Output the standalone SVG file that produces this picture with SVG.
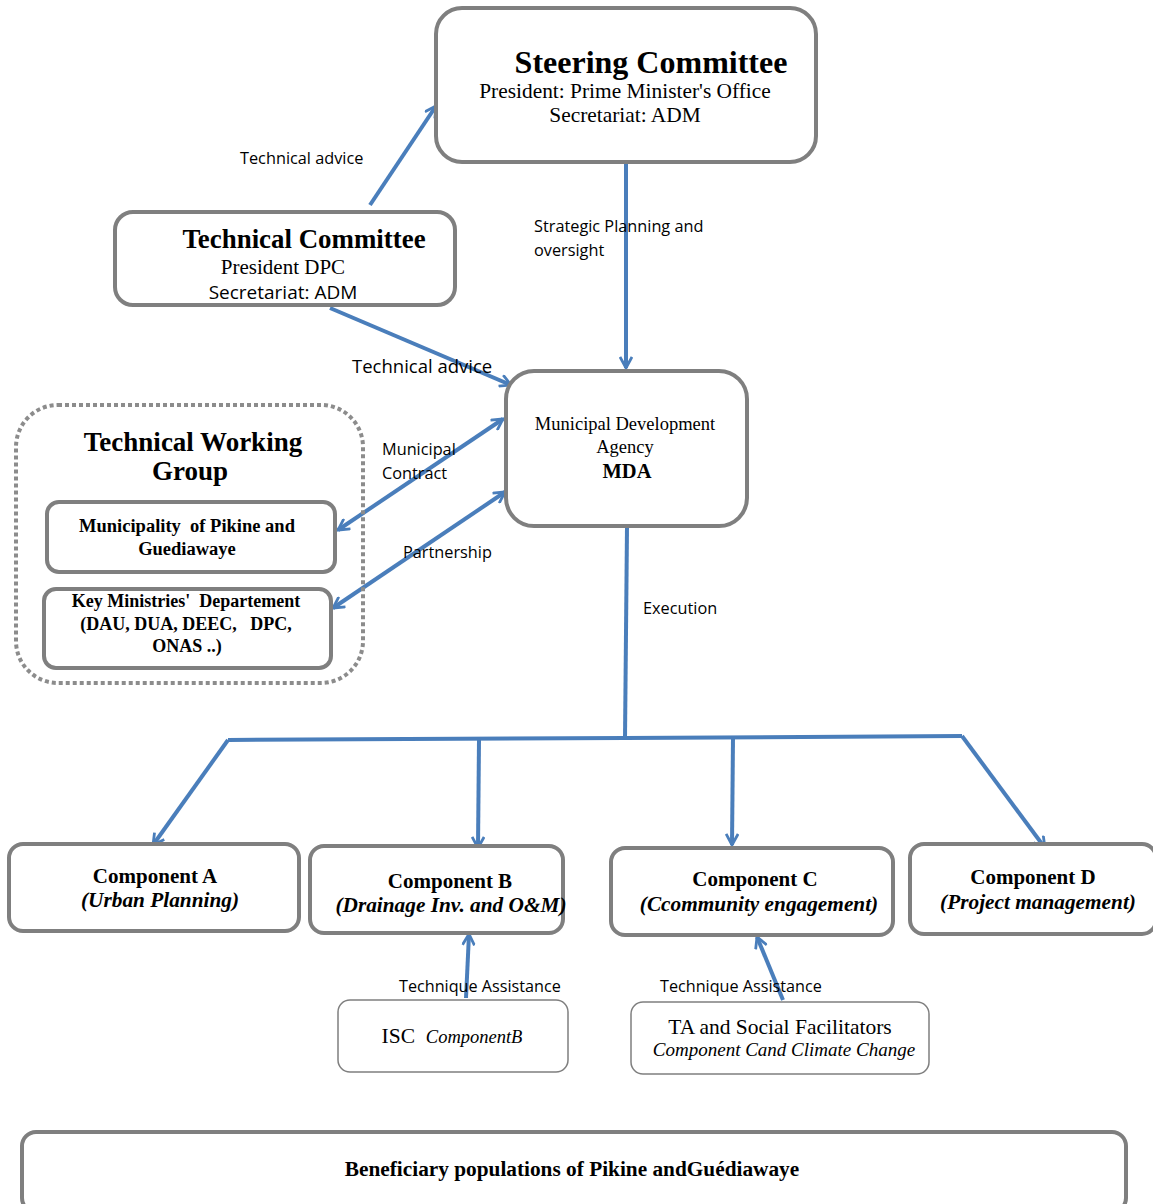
<svg xmlns="http://www.w3.org/2000/svg" width="1153" height="1204" viewBox="0 0 1153 1204">
<defs>
<marker id="ah" viewBox="0 0 14 14" refX="12" refY="7" markerWidth="14" markerHeight="14" markerUnits="userSpaceOnUse" orient="auto-start-reverse">
<polyline points="1,1 12,7 1,13" fill="none" stroke="#4a7ebb" stroke-width="2.8"/>
</marker>
<style>
.box{fill:#fff;stroke:#7f7f7f;stroke-width:4}
.thin{fill:#fff;stroke:#7f7f7f;stroke-width:1.5}
.dot{fill:none;stroke:#8c8c8c;stroke-width:4;stroke-dasharray:4 3}
.c{fill:none;stroke:#4a7ebb;stroke-width:4}
.a{marker-end:url(#ah)}
.aa{marker-end:url(#ah);marker-start:url(#ah)}
.s{font-family:"Liberation Serif","Times New Roman",serif;fill:#000}
.b{font-weight:bold}
.i{font-style:italic}
.sans{font-family:"Open Sans","Liberation Sans",sans-serif;fill:#000}
.m{text-anchor:middle}
</style>
</defs>
<rect width="1153" height="1204" fill="#fff"/>

<g id="connectors">
<line class="c a" x1="370" y1="205" x2="436" y2="106"/>
<line class="c a" x1="626" y1="163" x2="626" y2="368"/>
<line class="c a" x1="330" y1="308" x2="511" y2="385"/>
<line class="c aa" x1="338" y1="530" x2="503" y2="419"/>
<line class="c aa" x1="333" y1="608" x2="505" y2="492"/>
<line class="c" x1="627" y1="527" x2="625" y2="738"/>
<polyline class="c" points="228,740 625,738 962,736"/>
<line class="c a" x1="228" y1="740" x2="153" y2="845"/>
<line class="c a" x1="479" y1="740" x2="478" y2="848"/>
<line class="c a" x1="733" y1="738" x2="732" y2="845"/>
<line class="c a" x1="962" y1="736" x2="1045" y2="848"/>
<line class="c a" x1="466" y1="998" x2="469" y2="934"/>
<line class="c a" x1="783" y1="1000" x2="757" y2="937"/>
<text class="sans" x="240" y="164" font-size="16.3">Technical advice</text>
<text class="sans" x="534" y="232" font-size="16.3">Strategic  Planning and</text>
<text class="sans" x="534" y="256" font-size="16.3">oversight</text>
<text class="sans" x="352" y="373" font-size="18.5">Technical advice</text>
<text class="sans" x="382" y="455" font-size="16.3">Municipal</text>
<text class="sans" x="382" y="479" font-size="16.3">Contract</text>
<text class="sans" x="403" y="558" font-size="16.3">Partnership</text>
<text class="sans" x="643" y="614" font-size="16.3">Execution</text>
<text class="sans" x="399" y="992" font-size="16.2">Technique Assistance</text>
<text class="sans" x="660" y="992" font-size="16.2">Technique Assistance</text>
</g>

<g id="steering">
<rect class="box" x="436" y="8" width="380" height="154" rx="26"/>
<text class="s b m" x="651" y="73" font-size="32">Steering Committee</text>
<text class="s m" x="625" y="98" font-size="21.4">President: Prime Minister's Office</text>
<text class="s m" x="625" y="122" font-size="21.4">Secretariat: ADM</text>
</g>

<g id="technical">
<rect class="box" x="115" y="212" width="340" height="93" rx="18"/>
<text class="s b m" x="304" y="248" font-size="26.9">Technical Committee</text>
<text class="s m" x="283" y="274" font-size="21">President DPC</text>
<text class="sans m" x="283" y="299" font-size="19">Secretariat: ADM</text>
</g>

<g id="mda">
<rect class="box" x="506" y="371" width="241" height="155" rx="28"/>
<text class="s m" x="625" y="430" font-size="18.5">Municipal Development</text>
<text class="s m" x="625" y="453" font-size="18.5">Agency</text>
<text class="s b m" x="627" y="478" font-size="20.5">MDA</text>
</g>

<g id="twg">
<rect class="dot" x="16" y="405" width="347" height="278" rx="42"/>
<text class="s b m" x="193" y="451" font-size="27">Technical Working</text>
<text class="s b m" x="190" y="480" font-size="27">Group</text>
</g>

<g id="municipality">
<rect class="box" x="47" y="502" width="288" height="70" rx="12"/>
<text class="s b m" x="187" y="532" font-size="18.5">Municipality&#160; of Pikine and</text>
<text class="s b m" x="187" y="555" font-size="18.5">Guediawaye</text>
</g>

<g id="ministries">
<rect class="box" x="44" y="589" width="287" height="79" rx="12"/>
<text class="s b m" x="186" y="607" font-size="18">Key Ministries'&#160; Departement</text>
<text class="s b m" x="186" y="630" font-size="18">(DAU, DUA, DEEC,&#160;&#160; DPC,</text>
<text class="s b m" x="187" y="652" font-size="18">ONAS ..)</text>
</g>

<g id="compA">
<rect class="box" x="9" y="844" width="290" height="87" rx="14"/>
<text class="s b m" x="155" y="883" font-size="21">Component A</text>
<text class="s b i m" x="160" y="907" font-size="21.3">(Urban Planning)</text>
</g>

<g id="compB">
<rect class="box" x="310" y="846" width="253" height="87" rx="14"/>
<text class="s b m" x="450" y="888" font-size="21">Component B</text>
<text class="s b i m" x="451" y="912" font-size="21.3">(Drainage Inv. and O&amp;M)</text>
</g>

<g id="compC">
<rect class="box" x="611" y="848" width="282" height="87" rx="14"/>
<text class="s b m" x="755" y="886" font-size="21">Component C</text>
<text class="s b i m" x="759" y="911" font-size="21.3">(Ccommunity engagement)</text>
</g>

<g id="compD">
<rect class="box" x="910" y="844" width="246" height="90" rx="14"/>
<text class="s b m" x="1033" y="884" font-size="21">Component D</text>
<text class="s b i m" x="1038" y="909" font-size="21.3">(Project management)</text>
</g>

<g id="isc">
<rect class="thin" x="338" y="1000" width="230" height="72" rx="12"/>
<text class="s m" x="452" y="1043" font-size="21.5">ISC&#160; <tspan class="i" font-size="18.5">ComponentB</tspan></text>
</g>

<g id="ta">
<rect class="thin" x="631" y="1002" width="298" height="72" rx="12"/>
<text class="s m" x="780" y="1034" font-size="21.5">TA and Social Facilitators</text>
<text class="s i m" x="784" y="1056" font-size="19">Component Cand Climate Change</text>
</g>

<g id="beneficiary">
<rect class="box" x="22" y="1132" width="1104" height="80" rx="14"/>
<text class="s b m" x="572" y="1176" font-size="21.3">Beneficiary populations of Pikine andGuédiawaye</text>
</g>
</svg>
